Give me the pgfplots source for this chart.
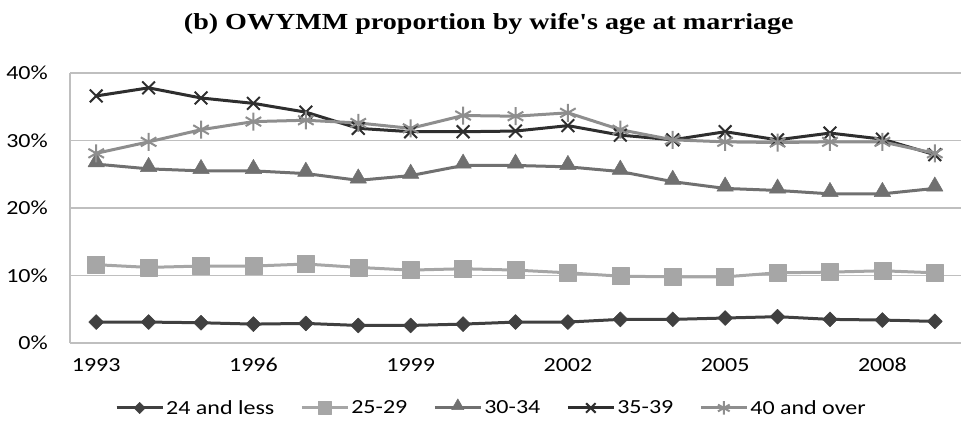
\documentclass[border=0pt]{standalone}
\usepackage{fontspec}
\setmainfont{Liberation Serif}
\newfontfamily\carlito[FakeStretch=1.2]{Carlito}
\newfontfamily\titlefont[FakeStretch=1.22]{Liberation Serif}
\usepackage{pgfplots}
\pgfplotsset{compat=1.18}
\definecolor{cA}{HTML}{404040}
\definecolor{cB}{HTML}{A6A6A6}
\definecolor{cC}{HTML}{707070}
\definecolor{cD}{HTML}{2E2E2E}
\definecolor{cE}{HTML}{8E8E8E}
\definecolor{gridc}{HTML}{BFBFBF}
\begin{document}
\begin{tikzpicture}
\useasboundingbox (-70bp,-93bp) rectangle (910bp,343bp);
\begin{axis}[
  at={(0,0)}, anchor=south west,
  scale only axis, width=891bp, height=270bp,
  xmin=1992.5, xmax=2009.5, ymin=0, ymax=40,
  xtick={1993,1996,1999,2002,2005,2008},
  ytick={0,10,20,30,40},
  yticklabels={0\%,10\%,20\%,30\%,40\%},
  x tick label style={/pgf/number format/1000 sep={}, /pgf/number format/assume math mode=true, font=\carlito\fontsize{20bp}{23bp}\selectfont, anchor=north, inner sep=0pt, yshift=-15bp},
  y tick label style={font=\carlito\fontsize{20bp}{23bp}\selectfont, anchor=east, inner sep=0pt, xshift=-22bp},
  major tick length=0pt,
  axis lines*=left,
  axis line style={gridc, line width=1.5bp, -},
  ymajorgrids, grid style={gridc, line width=1.5bp},
  title={\titlefont\bfseries\fontsize{23bp}{27bp}\selectfont (b) OWYMM proportion by wife's age at marriage},
  title style={at={(0.47,1)}, anchor=center, yshift=43bp, inner sep=0pt},
  legend columns=5,
  legend style={draw=none, at={(0.473,-0.2407)}, anchor=center,
    font=\carlito\fontsize{20bp}{23bp}\selectfont,
    nodes={inner sep=2bp},
    /tikz/every even column/.append style={column sep=24bp}},
  legend image code/.code={\draw[mark repeat=2, mark phase=2, #1, /tikz/every mark/.append style={scale=0.75}] plot coordinates {(0bp,0bp) (23bp,0bp) (46bp,0bp)};},
  every axis plot/.append style={line width=3bp, line join=round},
]
\addplot[cA, mark=square*, mark size=5.3bp, mark options={rotate=45, solid, line width=0.5bp, fill=cA}] coordinates {
(1993,3.1) (1994,3.1) (1995,3.0) (1996,2.8) (1997,2.9) (1998,2.6) (1999,2.6) (2000,2.8) (2001,3.1)
(2002,3.1) (2003,3.5) (2004,3.5) (2005,3.7) (2006,3.9) (2007,3.5) (2008,3.4) (2009,3.2)};
\addlegendentry{24 and less}
\addplot[cB, mark=square*, mark size=8.5bp, mark options={line width=0.5bp, fill=cB}] coordinates {
(1993,11.6) (1994,11.2) (1995,11.4) (1996,11.4) (1997,11.7) (1998,11.2) (1999,10.8) (2000,11.0) (2001,10.8)
(2002,10.4) (2003,9.9) (2004,9.8) (2005,9.8) (2006,10.4) (2007,10.5) (2008,10.7) (2009,10.4)};
\addlegendentry{25-29}
\addplot[cC, mark=triangle*, mark size=9.5bp, mark options={line width=0.5bp, fill=cC, yshift=2bp}] coordinates {
(1993,26.5) (1994,25.8) (1995,25.5) (1996,25.5) (1997,25.1) (1998,24.1) (1999,24.8) (2000,26.3) (2001,26.3)
(2002,26.1) (2003,25.4) (2004,23.9) (2005,22.9) (2006,22.6) (2007,22.1) (2008,22.1) (2009,22.9)};
\addlegendentry{30-34}
\addplot[cD, mark=x, mark size=9bp, mark options={line width=2bp}] coordinates {
(1993,36.6) (1994,37.8) (1995,36.3) (1996,35.5) (1997,34.2) (1998,31.8) (1999,31.3) (2000,31.3) (2001,31.4)
(2002,32.2) (2003,30.8) (2004,30.1) (2005,31.3) (2006,30.1) (2007,31.1) (2008,30.2) (2009,27.9)};
\addlegendentry{35-39}
\addplot[cE, mark=asterisk, mark size=9bp, mark options={line width=2bp}] coordinates {
(1993,28.1) (1994,29.8) (1995,31.6) (1996,32.8) (1997,33.0) (1998,32.6) (1999,31.8) (2000,33.7) (2001,33.6)
(2002,34.1) (2003,31.6) (2004,30.1) (2005,29.8) (2006,29.7) (2007,29.8) (2008,29.8) (2009,28.1)};
\addlegendentry{40 and over}
\end{axis}
\end{tikzpicture}
\end{document}
